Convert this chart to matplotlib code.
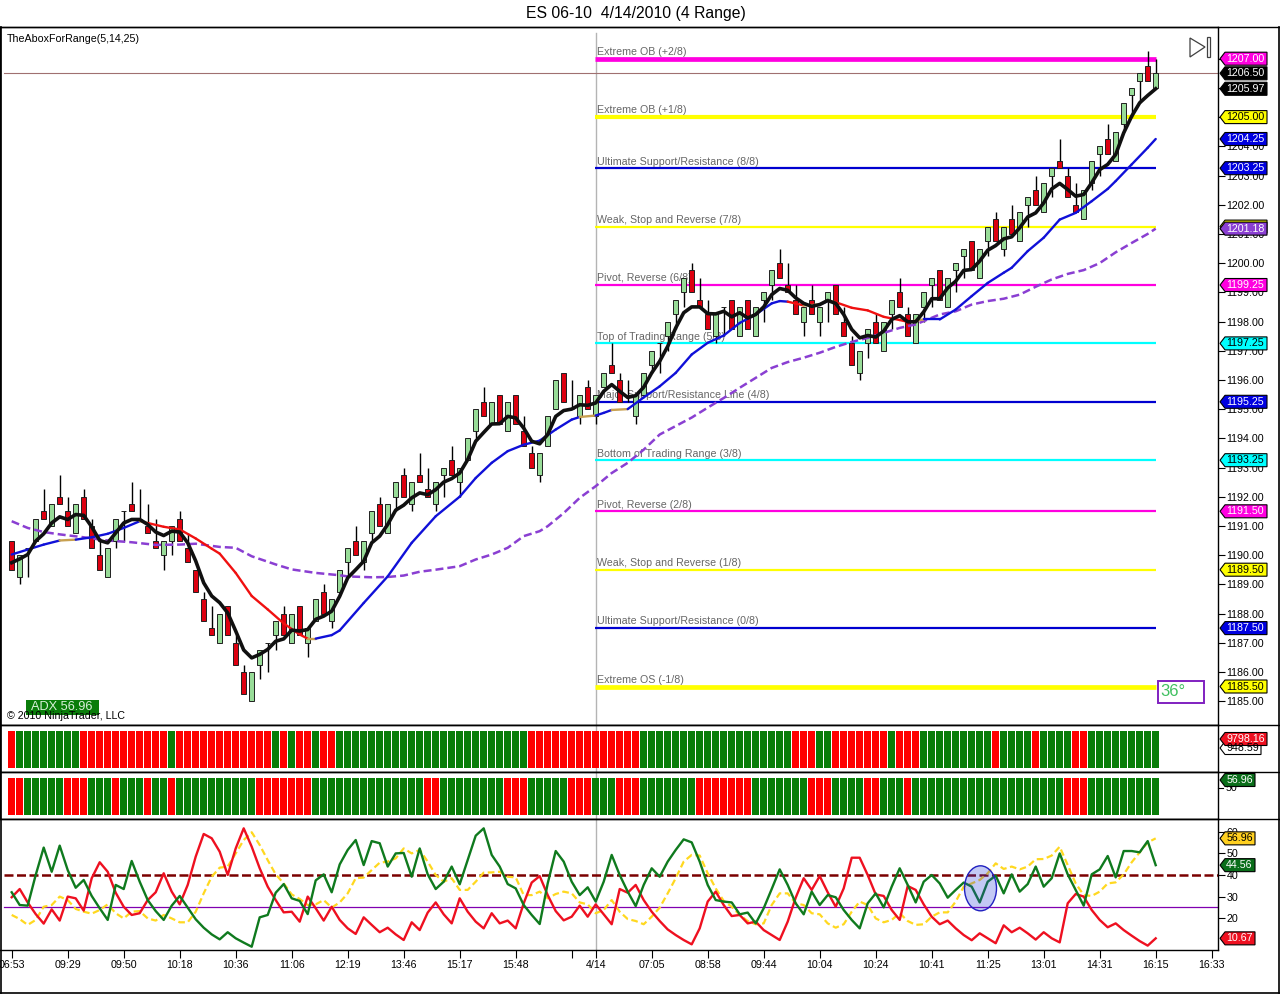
import matplotlib
matplotlib.use('Agg')
import matplotlib.pyplot as plt
from matplotlib.patches import Ellipse, Polygon, Rectangle

plt.rcParams['font.family'] = ['Liberation Sans', 'DejaVu Sans']

opens = [1190.5, 1189.25, 1190.25, 1190.5, 1191.5, 1191, 1192, 1191.5, 1190.75, 1192,
         1191, 1190, 1189.25, 1190.5, 1191.5, 1191.75, 1191.25, 1191, 1190.5, 1190,
         1190.5, 1191.25, 1190.25, 1189.5, 1188.5, 1187.5, 1187, 1188.25, 1187, 1186,
         1185, 1186.25, 1187, 1187.25, 1188, 1187, 1188.25, 1187, 1187.75, 1188.75,
         1187.75, 1188.75, 1189.75, 1190.5, 1189.75, 1190.75, 1191.75, 1190.75, 1192, 1192.75,
         1191.75, 1192.75, 1192.25, 1191.75, 1192.75, 1193.25, 1192.5, 1193.25, 1194.25, 1195.25,
         1194.5, 1195.5, 1194.25, 1195.5, 1194.25, 1193.5, 1192.75, 1193.75, 1195, 1196.25,
         1195, 1194.75, 1195.75, 1194.75, 1195.75, 1196.5, 1196, 1195.5, 1194.75, 1195.5,
         1196.5, 1197.25, 1197.5, 1198.25, 1199, 1199.75, 1198.75, 1198.25, 1197.5, 1198.5,
         1198.75, 1197.5, 1198.75, 1197.5, 1198.75, 1199.25, 1200, 1199.25, 1198.75, 1198,
         1198.75, 1198, 1198.75, 1199.25, 1198, 1197.25, 1196.25, 1197.25, 1198, 1197,
         1198.25, 1199, 1198.25, 1197.25, 1198.5, 1199.25, 1199.75, 1198.5, 1199.75, 1200.25,
         1200.75, 1199.5, 1200.75, 1201.5, 1200.5, 1201.5, 1200.75, 1202, 1202.5, 1201.75,
         1203, 1203.5, 1203, 1202, 1201.5, 1202.75, 1203.75, 1204.25, 1203.5, 1204.75,
         1205.75, 1206.25, 1206.75, 1206]
closes = [1189.5, 1190, 1190.25, 1191.25, 1191.25, 1191.75, 1191.75, 1191, 1191.75, 1191.25,
          1190.25, 1189.5, 1190.25, 1191.25, 1191.5, 1191.5, 1191.25, 1190.75, 1190.25, 1190.5,
          1191, 1190.5, 1189.75, 1188.75, 1187.75, 1187.25, 1188, 1187.25, 1186.25, 1185.25,
          1186, 1186.75, 1187, 1187.75, 1187.25, 1188, 1187.25, 1187.5, 1188.5, 1188,
          1188.5, 1189.5, 1190.25, 1190, 1190.5, 1191.5, 1191, 1191.75, 1192.5, 1192,
          1192.5, 1192.5, 1192, 1192.5, 1193, 1192.75, 1193, 1194, 1195, 1194.75,
          1195.25, 1194.5, 1195.25, 1194.5, 1193.75, 1193, 1193.5, 1194.75, 1196, 1195.25,
          1195, 1195.5, 1195, 1195.5, 1196.25, 1196.25, 1195.25, 1195.5, 1195.5, 1196.25,
          1197, 1197.25, 1198, 1198.75, 1199.5, 1199, 1198.5, 1197.75, 1198.25, 1198.5,
          1197.75, 1198.5, 1197.75, 1198.5, 1199, 1199.75, 1199.5, 1199, 1198.25, 1198.5,
          1198.25, 1198.5, 1199, 1198.25, 1197.5, 1196.5, 1197, 1197.75, 1197.25, 1198,
          1198.75, 1198.5, 1197.5, 1198.25, 1199, 1199.5, 1198.75, 1199.5, 1200, 1200.5,
          1199.75, 1200.5, 1201.25, 1200.75, 1201.25, 1201, 1201.75, 1202.25, 1202, 1202.75,
          1203.25, 1203.25, 1202.25, 1201.75, 1202.5, 1203.5, 1204, 1203.75, 1204.5, 1205.5,
          1206, 1206.5, 1206.25, 1206.5]
highs = [1190.5, 1190, 1190.25, 1191.25, 1192.25, 1191.75, 1192.75, 1192, 1191.75, 1192.25,
         1191.25, 1190.5, 1190.25, 1191.25, 1191.5, 1192.5, 1192.25, 1191.75, 1191.25, 1190.5,
         1191, 1191.5, 1190.75, 1189.5, 1188.75, 1188.25, 1188, 1188.25, 1187.25, 1186.25,
         1186, 1186.75, 1187, 1187.75, 1188.25, 1188, 1188.25, 1187.5, 1188.5, 1189,
         1188.5, 1189.5, 1190.25, 1191, 1190.5, 1191.5, 1192, 1191.75, 1192.5, 1193,
         1192.5, 1193.5, 1193, 1192.5, 1193, 1193.75, 1193, 1194, 1195, 1195.75,
         1195.25, 1195.5, 1195.25, 1195.5, 1194.75, 1193.75, 1193.5, 1194.75, 1196, 1196.25,
         1196, 1195.5, 1196, 1195.5, 1196.25, 1197.25, 1196.25, 1196, 1195.5, 1196.25,
         1197, 1197.25, 1198, 1198.75, 1199.5, 1200, 1199.5, 1198.75, 1198.25, 1198.5,
         1198.75, 1198.5, 1198.75, 1198.5, 1199, 1199.75, 1200.5, 1200, 1199.25, 1198.5,
         1199.25, 1198.5, 1199, 1199.25, 1198.5, 1197.5, 1197, 1197.75, 1198.25, 1198,
         1198.75, 1199.5, 1198.5, 1198.25, 1199, 1199.5, 1199.75, 1199.5, 1200, 1200.5,
         1200.75, 1200.5, 1201.25, 1201.75, 1201.25, 1202, 1201.75, 1202.25, 1203, 1202.75,
         1203.25, 1204.25, 1203.25, 1202.75, 1202.5, 1203.5, 1204, 1204.75, 1204.5, 1205.5,
         1206, 1206.5, 1207.25, 1207]
lows = [1189.5, 1189, 1189.25, 1190.5, 1191.25, 1191, 1191.75, 1191, 1190.75, 1191.25,
        1190.25, 1189.5, 1189.25, 1190.25, 1190.5, 1191.5, 1191.25, 1190.75, 1190.25, 1189.5,
        1190, 1190.5, 1189.75, 1188.75, 1187.75, 1187.25, 1187, 1187.25, 1186.25, 1185.25,
        1185, 1185.75, 1186, 1186.75, 1187.25, 1187, 1187.25, 1186.5, 1187.75, 1188,
        1187.5, 1188.75, 1189.25, 1190, 1189.5, 1190.5, 1191, 1190.75, 1191.5, 1192,
        1191.5, 1192.5, 1192, 1191.5, 1192, 1192.75, 1192, 1193.25, 1194, 1194.75,
        1194.5, 1194.5, 1194.25, 1194.5, 1193.75, 1193, 1192.5, 1193.75, 1195, 1195.25,
        1195, 1194.5, 1195, 1194.5, 1195.75, 1196.25, 1195.25, 1195.25, 1194.5, 1195.5,
        1196.25, 1196.25, 1197, 1197.75, 1198.5, 1199, 1198.5, 1197.75, 1197.25, 1197.5,
        1197.75, 1197.5, 1197.75, 1197.5, 1198, 1198.75, 1199.5, 1199, 1198.25, 1197.5,
        1198.25, 1197.5, 1198, 1198.25, 1197.5, 1196.5, 1196, 1196.75, 1197.25, 1197,
        1197.75, 1198.5, 1197.5, 1197.25, 1198, 1198.5, 1198.75, 1198.5, 1199, 1199.5,
        1199.75, 1199.5, 1200.25, 1200.75, 1200.25, 1201, 1200.75, 1201.25, 1202, 1201.75,
        1202.25, 1203.25, 1202.25, 1201.75, 1201.5, 1202.5, 1203, 1203.75, 1203.5, 1204.5,
        1205, 1205.5, 1206.25, 1206]

fast_ma = [1189.74, 1189.87, 1190.02, 1190.48, 1190.73, 1191.1, 1191.31, 1191.22, 1191.39, 1191.36,
           1190.97, 1190.5, 1190.42, 1190.76, 1191.1, 1191.22, 1191.22, 1191.05, 1190.79, 1190.67,
           1190.82, 1190.79, 1190.42, 1189.8, 1189.05, 1188.6, 1188.37, 1188.02, 1187.4, 1186.75,
           1186.48, 1186.6, 1186.77, 1187.05, 1187.13, 1187.43, 1187.4, 1187.45, 1187.8, 1187.91,
           1188.08, 1188.59, 1189.22, 1189.5, 1189.79, 1190.42, 1190.65, 1191.05, 1191.54, 1191.71,
           1191.96, 1192.13, 1192.07, 1192.24, 1192.5, 1192.62, 1192.81, 1193.27, 1193.9, 1194.2,
           1194.49, 1194.5, 1194.75, 1194.7, 1194.35, 1193.9, 1193.81, 1194.13, 1194.75, 1194.95,
           1195.0, 1195.15, 1195.13, 1195.21, 1195.61, 1195.84, 1195.61, 1195.4, 1195.46, 1195.75,
           1196.24, 1196.64, 1197.15, 1197.78, 1198.3, 1198.5, 1198.5, 1198.27, 1198.26, 1198.35,
           1198.16, 1198.3, 1198.12, 1198.24, 1198.5, 1198.92, 1199.13, 1199.07, 1198.81, 1198.62,
           1198.52, 1198.58, 1198.72, 1198.62, 1198.24, 1197.73, 1197.44, 1197.52, 1197.47, 1197.67,
           1198.07, 1198.2, 1197.99, 1197.99, 1198.33, 1198.78, 1198.78, 1199.15, 1199.38, 1199.75,
           1199.78, 1200.07, 1200.44, 1200.6, 1200.83, 1200.9, 1201.21, 1201.58, 1201.72, 1202.06,
           1202.54, 1202.73, 1202.52, 1202.29, 1202.35, 1202.75, 1203.2, 1203.38, 1203.72, 1204.46,
           1205.03, 1205.49, 1205.74, 1205.97]

# slope coloured average: b blue, r red, o turning
mid_x = [0, 2, 4, 6, 8, 10, 12, 14, 16, 17, 19, 21, 23, 25, 26, 28, 30, 32, 34, 36, 37, 38, 40, 41,
         44, 47, 50, 53, 56, 58, 60, 62, 64, 66, 68, 70, 71, 73, 74, 75, 77, 79, 81, 83, 85, 87, 89, 91, 93, 95, 96,
         97, 99, 101, 102, 103, 105, 107, 109, 111, 112, 114, 116, 118, 120, 122, 124, 125, 127, 129, 131, 133,
         135, 137, 138, 140, 142, 143]
mid_y = [1190.02, 1190.19, 1190.36, 1190.5, 1190.53, 1190.61, 1190.73, 1190.93, 1191.16, 1191.1, 1190.97,
         1190.88, 1190.57, 1190.22, 1190.05, 1189.39, 1188.6, 1188.14, 1187.66, 1187.28, 1187.14, 1187.14,
         1187.26, 1187.42, 1188.36, 1189.27, 1190.42, 1191.33, 1192.0, 1192.64, 1193.16, 1193.56, 1193.78,
         1193.92, 1194.3, 1194.64, 1194.73, 1194.78, 1194.87, 1194.97, 1195.0, 1195.4, 1195.78, 1196.24,
         1196.87, 1197.27, 1197.52, 1197.95, 1198.24, 1198.62, 1198.7, 1198.68, 1198.55, 1198.58, 1198.7,
         1198.66, 1198.47, 1198.38, 1198.16, 1198.05, 1197.99, 1198.07, 1198.07, 1198.41, 1198.87, 1199.32,
         1199.67, 1199.84, 1200.41, 1200.87, 1201.49, 1201.72, 1202.12, 1202.54, 1202.81, 1203.38, 1203.95,
         1204.25]
mid_runs = [('b', 3), ('o', 1), ('b', 4), ('o', 1), ('r', 11), ('o', 1), ('b', 15), ('o', 1), ('b', 2),
            ('o', 1), ('b', 11), ('r', 1), ('o', 1), ('b', 1), ('o', 1), ('r', 5), ('o', 1), ('b', 16)]

slow_x = [0, 2, 4, 6, 9, 12, 15, 18, 21, 23, 26, 28, 30, 33, 35, 38, 41, 42, 45, 47, 49, 51, 53, 56, 58, 60,
          62, 64, 66, 67, 69, 71, 73, 75, 77, 79, 81, 85, 87, 89, 91, 93, 95, 97, 99, 101, 103, 105, 107,
          109, 111, 113, 116, 118, 120, 122, 124, 126, 128, 130, 132, 134, 136, 138, 140, 142, 143]
slow_y = [1191.16, 1190.93, 1190.79, 1190.71, 1190.61, 1190.5, 1190.44, 1190.35, 1190.36, 1190.39, 1190.28,
          1190.25, 1189.96, 1189.68, 1189.51, 1189.39, 1189.31, 1189.27, 1189.24, 1189.25, 1189.3, 1189.43,
          1189.5, 1189.62, 1189.85, 1190.02, 1190.25, 1190.65, 1190.82, 1190.99, 1191.44, 1191.96, 1192.36,
          1192.81, 1193.16, 1193.61, 1194.13, 1194.71, 1195.05, 1195.38, 1195.73, 1196.07, 1196.41, 1196.61,
          1196.76, 1196.93, 1197.13, 1197.3, 1197.44, 1197.61, 1197.78, 1197.9, 1198.24, 1198.35, 1198.58,
          1198.7, 1198.78, 1198.92, 1199.19, 1199.44, 1199.63, 1199.76, 1200.0, 1200.37, 1200.69, 1201.0,
          1201.18]

level_prices = [1207, 1205, 1203.25, 1201.25, 1199.25, 1197.25, 1195.25, 1193.25, 1191.5, 1189.5, 1187.5, 1185.5]
level_names = ['Extreme OB (+2/8)', 'Extreme OB (+1/8)', 'Ultimate Support/Resistance (8/8)',
               'Weak, Stop and Reverse (7/8)', 'Pivot, Reverse (6/8)', 'Top of Trading Range (5/8)',
               'Major Support/Resistance Line (4/8)', 'Bottom of Trading Range (3/8)', 'Pivot, Reverse (2/8)',
               'Weak, Stop and Reverse (1/8)', 'Ultimate Support/Resistance (0/8)', 'Extreme OS (-1/8)']
level_cols = ['#ff00e0', '#ffff00', '#0000d0', '#ffff00', '#ff00e0', '#00ffff', '#0000d0', '#00ffff',
              '#ff00e0', '#ffff00', '#0000d0', '#ffff00']
level_widths = [3.4, 3, 1.6, 1.6, 1.6, 1.6, 1.6, 1.6, 1.6, 1.6, 1.6, 3.4]

strip1_runs = [('r', 1), ('g', 8), ('r', 11), ('g', 1), ('r', 12), ('g', 1), ('r', 1), ('g', 1), ('r', 2),
               ('g', 1), ('r', 2), ('g', 24), ('r', 14), ('g', 19), ('r', 3), ('g', 2), ('r', 7), ('g', 1),
               ('r', 3), ('g', 9), ('r', 1), ('g', 4), ('r', 1), ('g', 4), ('r', 2), ('g', 9)]
strip2_runs = [('r', 2), ('g', 5), ('r', 3), ('g', 3), ('r', 1), ('g', 3), ('r', 1), ('g', 2), ('r', 1),
               ('g', 10), ('r', 7), ('g', 14), ('r', 2), ('g', 8), ('r', 3), ('g', 5), ('r', 3), ('g', 3),
               ('r', 3), ('g', 7), ('r', 7), ('g', 7), ('r', 3), ('g', 4), ('r', 2), ('g', 3), ('r', 1),
               ('g', 19), ('r', 3), ('g', 9)]

adx_green = [32, 26.1, 25.8, 40, 52.7, 41.5, 53.6, 42.3, 34.1, 37.7,
             30.3, 24.6, 19.2, 35.4, 33.5, 46.5, 36.9, 28.4, 23.3, 19.2,
             25.8, 30.3, 24.9, 19.5, 15.6, 12.5, 10.2, 13.5, 10.7, 8.7,
             6.8, 20.4, 21.5, 31.8, 35.8, 29.2, 28, 21.9, 37.5, 40.3,
             32, 44.9, 51.6, 56.2, 44.6, 55.7, 54.7, 43.9, 50, 50.2,
             39.2, 52.3, 40.3, 33.5, 36.9, 43.9, 35.7, 46.9, 58.2, 61.6,
             49.3, 43.9, 35.8, 33.8, 26.1, 21.5, 17.3, 36.1, 51.1, 46.2,
             36.9, 30.7, 34.3, 27.7, 36.9, 49.3, 40, 32.3, 25.6, 35.4,
             43.1, 39.2, 46.2, 51.6, 56.5, 55.1, 46.2, 35.4, 28.4, 27.7,
             27.3, 21.8, 22.6, 17.6, 24.6, 33.5, 42.6, 35.4, 26.9, 21.8,
             32.3, 26.1, 30.7, 29.7, 23.8, 19.2, 15.3, 26.9, 31.5, 25,
             34.6, 43.1, 35.4, 27.3, 36.9, 40, 36.1, 29.5, 33.1, 36.5,
             34.6, 27.3, 36.9, 39.7, 31.5, 40.3, 32.3, 35.8, 43.9, 34.6,
             38.5, 50, 40.3, 33.1, 25.8, 40.3, 42.6, 48.8, 38.9, 51.1,
             51.1, 50.5, 55.7, 44.56]
adx_red = [29.7, 33.5, 27.3, 21.9, 17.5, 24.1, 18.9, 30, 29.2, 23.5,
           38.5, 45.9, 41.5, 31.8, 25.3, 21.5, 22.3, 28.4, 32, 40.8,
           32.3, 26.4, 35.4, 48.5, 59, 57, 50.8, 40, 52.3, 61.6,
           53.1, 43.1, 34.6, 28.4, 22.7, 23, 18.4, 30, 24.6, 18.9,
           25.3, 19.2, 15.3, 12.7, 20.4, 16.9, 13.5, 15.6, 12.5, 9.9,
           18.1, 14.5, 22.6, 27.3, 21.8, 17.6, 29.2, 23, 18.4, 15.3,
           22.3, 17.6, 18.9, 15.3, 26.9, 36.5, 39.5, 30.7, 23.3, 19,
           20.7, 25.8, 20.7, 26.4, 21.8, 17.2, 33.5, 31.8, 35.4, 28.4,
           23, 18.7, 14.8, 12.2, 9.9, 7.9, 15.3, 27.7, 32.3, 26.1,
           21, 21.5, 17.6, 18.4, 14.5, 12.2, 9.9, 18.4, 29.5, 38.5,
           33.1, 39.5, 32, 25.3, 33.8, 48, 48, 40, 31, 30.3,
           23.8, 19.2, 34.9, 33.1, 26.4, 20.7, 17.2, 18.9, 15.3, 12.2,
           9.8, 13, 10.7, 8.4, 16.7, 13.5, 15.6, 13, 10.1, 13.5,
           10.7, 8.8, 26.9, 31.2, 30, 23.8, 19.2, 15.8, 17.6, 14.5,
           11.9, 9.4, 7.3, 10.67]
adx_yellow = [21.5, 19.6, 16.9, 19.2, 25.3, 26.1, 30, 28.4, 24.3, 23,
              22.1, 23.8, 26.4, 22.3, 19.9, 23, 23.3, 19.9, 18.9, 21.5,
              19.9, 18.1, 18.1, 23, 31.5, 39.2, 43.4, 43.9, 50, 56.2,
              59.8, 53.9, 46.9, 40.3, 36.1, 31, 28.9, 26.1, 26.4, 28.4,
              24.9, 27.3, 31.5, 38.5, 38.8, 42.3, 45.7, 46.2, 47.7, 52.3,
              50, 51.6, 46.2, 40, 36.9, 38.5, 33.1, 33.1, 36.9, 41.1,
              41.2, 41.5, 39.2, 38.9, 30.7, 30.7, 32.3, 29.2, 31.2, 32.3,
              31.5, 27.3, 26.4, 22.3, 23.8, 28.4, 23, 19.6, 18.7, 17.2,
              20.7, 24.9, 31.5, 38.5, 46.2, 49.3, 49, 40.8, 33.8, 28,
              25.3, 21.5, 18.7, 17.2, 17.6, 26.1, 31.5, 31.5, 26.9, 26.1,
              22.3, 21.8, 17.6, 15.6, 17.2, 23, 27.7, 26.1, 19.9, 18.1,
              19.2, 22.3, 18.7, 16.9, 17.2, 20.7, 22.7, 22.7, 27.7, 34.6,
              36.1, 37.7, 40.8, 45.4, 42.8, 43.9, 42.6, 43.9, 47.3, 47.4,
              49, 53.1, 44.6, 36.1, 30.7, 30.3, 32.3, 36.1, 36.6, 40.3,
              45.9, 50.5, 55.1, 56.96]

tick_idx = [0, 7, 14, 21, 28, 35, 42, 49, 56, 63, 70, 73, 80, 87, 94, 101, 108, 115, 122, 129, 136, 143, 150]
tick_lab = ['06:53', '09:29', '09:50', '10:18', '10:36', '11:06', '12:19', '13:46', '15:17', '15:48', '',
            '4/14', '07:05', '08:58', '09:44', '10:04', '10:24', '10:41', '11:25', '13:01', '14:31',
            '16:15', '16:33']

W, H = 1280, 994
BAR_PX = 8.0
X0_PX = 11.7
AX_R = 1218
TXT = 7.7
GREEN_BODY = '#98dc98'
CANDLE_RED = '#dd0010'
STRIP_RED = '#ff0000'
STRIP_GREEN = '#087d08'


def panel(top, bottom):
    ax = fig.add_axes([0, 1 - bottom / H, AX_R / W, (bottom - top) / H])
    ax.set_xlim((0 - X0_PX) / BAR_PX, (AX_R - X0_PX) / BAR_PX)
    ax.set_facecolor('white')
    for s in ax.spines.values():
        s.set_linewidth(1.0)
    return ax


def expand(runs):
    out = []
    for c, n in runs:
        out += [c] * n
    return out


def strip(ax, runs):
    cols = [STRIP_RED if c == 'r' else STRIP_GREEN for c in expand(runs)]
    ax.axvline(73, color='#b4b4b4', lw=1, zorder=0)
    ax.bar(range(len(cols)), [0.797] * len(cols), bottom=0.085, width=0.87, color=cols, zorder=2)
    ax.set_ylim(0, 1)
    ax.set_xticks([])
    ax.set_yticks([])


fig = plt.figure(figsize=(W / 100, H / 100), dpi=100, facecolor='white')

# price panel
ax = panel(26.5, 725)
ax.set_ylim(1198 - (725 - 321.5) / 29.2, 1198 - (26.5 - 321.5) / 29.2)
ax.axvline(73, ymax=0.99, color='#b4b4b4', lw=1, zorder=0)
for p, name, c, lw in zip(level_prices, level_names, level_cols, level_widths):
    ax.plot([72.9, 143], [p, p], color=c, lw=lw, solid_capstyle='butt', zorder=1)
    ax.annotate(name, (73, p), xytext=(1.2, 1.2), textcoords='offset points', color='#666666', fontsize=TXT,
                va='bottom', ha='left', zorder=1.5)
ax.plot([-1, 151], [1206.5, 1206.5], color='#a07070', lw=0.8, zorder=1)

idx = list(range(len(opens)))
ax.vlines(idx, lows, highs, color='black', lw=1, zorder=2)
body_col = [CANDLE_RED if c < o else GREEN_BODY for o, c in zip(opens, closes)]
ax.bar(idx, [abs(c - o) for o, c in zip(opens, closes)], bottom=[min(o, c) for o, c in zip(opens, closes)],
       width=0.66, color=body_col, edgecolor='#202020', linewidth=0.7, zorder=3)

ax.plot(slow_x, slow_y, color='#8a3fd2', lw=1.8, ls=(0, (3.2, 1.6)), zorder=4)
seg_col = {'b': '#1010d8', 'r': '#f01010', 'o': '#c8a050'}
for i, c in enumerate(expand(mid_runs)):
    ax.plot(mid_x[i:i + 2], mid_y[i:i + 2], color=seg_col[c], lw=1.7, solid_capstyle='round', zorder=4)
ax.plot(idx, fast_ma, color='#101010', lw=2.6, solid_joinstyle='round', zorder=5)

ax.yaxis.tick_right()
ax.set_yticks(range(1185, 1208))
ax.set_yticklabels(['%.2f' % v for v in range(1185, 1208)], fontsize=TXT)
ax.tick_params(axis='y', length=5, width=0.8, pad=1)
ax.set_xticks([])

# colour strips
ax1 = panel(725, 772.3)
strip(ax1, strip1_runs)
ax2 = panel(772.3, 819)
strip(ax2, strip2_runs)

# ADX panel
ax3 = panel(819, 950)
ax3.set_ylim(40 - (950 - 875) / 2.16, 40 - (819 - 875) / 2.16)
ax3.axvline(73, color='#b4b4b4', lw=1, zorder=0)
ax3.plot([-1, 151], [40, 40], color='#7a0000', lw=1.8, ls=(0, (3.6, 1.4)), zorder=1)
ax3.plot([-1, 151], [25, 25], color='#8000b0', lw=0.9, zorder=1)
ax3.plot(idx, adx_yellow, color='#ffd820', lw=1.6, ls=(0, (3, 1.6)), zorder=2)
ax3.plot(idx, adx_red, color='#ee1020', lw=1.7, zorder=3)
ax3.plot(idx, adx_green, color='#0f7a1e', lw=1.7, zorder=4)
ax3.add_patch(Ellipse((121.1, 40 - (888.3 - 875) / 2.16), 32 / BAR_PX, 45 / 2.16, facecolor='#2840d8',
                      alpha=0.28, edgecolor='none', zorder=5))
ax3.add_patch(Ellipse((121.1, 40 - (888.3 - 875) / 2.16), 32 / BAR_PX, 45 / 2.16, facecolor='none',
                      edgecolor='#2020c0', lw=1, zorder=6))
ax3.yaxis.tick_right()
ax3.set_yticks([20, 30, 40, 50, 60])
ax3.set_yticklabels(['20', '30', '40', '50', '60'], fontsize=TXT)
ax3.tick_params(axis='y', length=5, width=0.8, pad=1)
ax3.set_xticks(tick_idx)
ax3.set_xticklabels(tick_lab, fontsize=TXT)
ax3.tick_params(axis='x', length=6, width=0.8, pad=1)
ax3.spines['left'].set_visible(False)

# overlay in pixel coords for the frame, tags and notes
ov = fig.add_axes([0, 0, 1, 1], zorder=20)
ov.set_xlim(0, W)
ov.set_ylim(H, 0)
ov.axis('off')
ov.patch.set_alpha(0)

ov.plot([0.5, 0.5], [26.5, 993], color='black', lw=1.2, zorder=1)
ov.plot([1279, 1279], [26.5, 993], color='black', lw=1.2, zorder=1)
ov.plot([0, W], [993, 993], color='black', lw=1.2, zorder=1)
for yy in [26.5, 725, 772.3, 819]:
    ov.plot([0, 1279], [yy, yy], color='black', lw=1.0, zorder=1)

ov.text(635.5, 13.5, 'ES 06-10  4/14/2010 (4 Range)', ha='center', va='center', fontsize=11.3)
ov.text(7, 38.5, 'TheAboxForRange(5,14,25)', fontsize=TXT, va='center')
ov.text(7, 716, '\u00a9 2010 NinjaTrader, LLC', fontsize=TXT, va='center')
ov.add_patch(Rectangle((26, 700), 73, 15, facecolor='#0a7d0a', edgecolor='none', zorder=2))
ov.text(61.5, 707, 'ADX 56.96', color='#d8f0d8', fontsize=9.2, ha='center', va='center', zorder=3)
ov.add_patch(Rectangle((1158, 681), 46, 22, facecolor='white', edgecolor='#8020c0', lw=1.4, zorder=2))
ov.text(1172.7, 691, '36\u00b0', color='#40c060', fontsize=12, ha='center', va='center', zorder=3)
ov.add_patch(Polygon([(1190, 38), (1190, 57), (1205, 47)], closed=True, facecolor='white', edgecolor='#404040', lw=0.9))
ov.add_patch(Rectangle((1207, 37), 3, 20, facecolor='white', edgecolor='#404040', lw=0.9))


def tag(value_y, label, face, fg, right=1267):
    x0, top, bot = 1220, value_y - 6.5, value_y + 6.5
    ov.add_patch(Polygon([(x0, value_y), (x0 + 5, top), (right, top), (right, bot), (x0 + 5, bot)], closed=True,
                         facecolor=face, edgecolor='black', lw=0.8, zorder=6))
    ov.text((x0 + 4 + right) / 2, value_y, label, color=fg, fontsize=TXT, ha='center', va='center', zorder=7)


def y_px(a, v):
    return H - a.transData.transform((0, v))[1]


tag(y_px(ax, 1201.25), '', '#ffff00', 'black')
price_tags = [(1207, '1207.00', '#ff00e0', 'white'), (1206.5, '1206.50', 'black', 'white'),
              (1205.97, '1205.97', 'black', 'white'), (1205, '1205.00', '#ffff00', 'black'),
              (1204.25, '1204.25', '#0000e0', 'white'), (1203.25, '1203.25', '#0000e0', 'white'),
              (1201.18, '1201.18', '#8a3fd2', 'white'), (1199.25, '1199.25', '#ff00e0', 'white'),
              (1197.25, '1197.25', '#00ffff', 'black'), (1195.25, '1195.25', '#0000e0', 'white'),
              (1193.25, '1193.25', '#00ffff', 'black'), (1191.5, '1191.50', '#ff00e0', 'white'),
              (1189.5, '1189.50', '#ffff00', 'black'), (1187.5, '1187.50', '#0000e0', 'white'),
              (1185.5, '1185.50', '#ffff00', 'black')]
for v, lab, face, fg in price_tags:
    tag(y_px(ax, v), lab, face, fg)

ov.text(1226, 788, '50', fontsize=TXT, va='center', zorder=5)
ov.plot([1218, 1223], [788, 788], color='black', lw=0.8, zorder=5)
tag(748, '948.59', 'white', 'black', right=1261)
tag(739, '9798.16', '#ee1020', 'white')
tag(780, '56.96', '#0a6e1a', 'white', right=1255)
tag(y_px(ax3, 56.96), '56.96', '#ffd020', 'black', right=1255)
tag(y_px(ax3, 44.56), '44.56', '#0a6e1a', 'white', right=1255)
tag(y_px(ax3, 10.67), '10.67', '#ee1020', 'white', right=1255)

fig.savefig('out.png', dpi=100, facecolor='white')
